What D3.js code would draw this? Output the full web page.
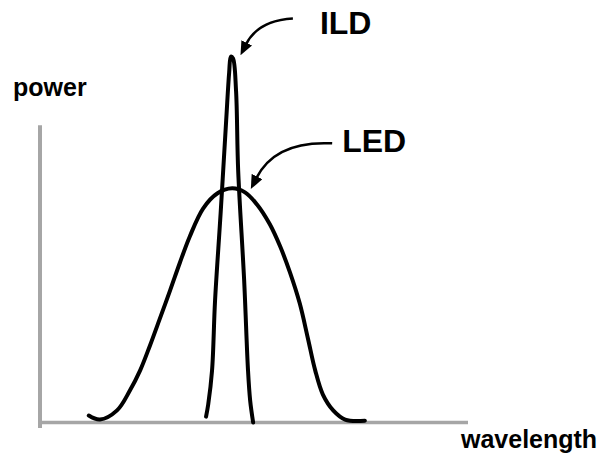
<!DOCTYPE html>
<html lang="en">
<head>
<meta charset="UTF-8">
<title>ILD vs LED spectrum</title>
<script src="https://d3js.org/d3.v7.min.js"></script>
<style>
  body { margin: 0; background: #fff; }
  text { font-family: "Liberation Sans", Arial, sans-serif; font-weight: bold; fill: #000; }
</style>
</head>
<body>
<script>
// wavelength (0-100) / relative power (0-100)
var ledWavelength = [11.4, 14.0, 18.0, 21.0, 23.4, 25.7, 28.0, 30.4, 32.7, 35.0, 38.1, 41.4, 44.9,
                     47.9, 50.7, 53.7, 56.1, 58.4, 60.7, 62.6, 64.3, 66.1, 68.5, 71.3, 75.9];
var ledPower      = [1.9, 0.8, 3.3, 8.7, 14.2, 21.0, 28.3, 36.0, 43.6, 50.7, 58.3, 62.4, 63.8,
                     62.7, 59.4, 54.0, 48.0, 40.9, 32.4, 22.9, 14.2, 7.6, 3.3, 0.8, 0.5];

var ildWavelength = [38.8, 39.3, 40.2, 40.9, 42.2, 43.5, 44.2, 44.6, 45.1, 45.8, 46.3, 47.7, 48.6, 49.1, 49.8];
var ildPower      = [1.6, 4.9, 14.2, 33.2, 57.0, 82.3, 95.4, 99.7, 99.2, 90.5, 68.7, 38.7, 14.2, 6.0, 0.0];

var labels = ["ILD", "LED"];
var axisTitles = ["power", "wavelength"];

var width = 601, height = 457;

var svg = d3.select("body").append("svg")
    .attr("width", width)
    .attr("height", height);

var x = d3.scaleLinear().domain([0, 100]).range([40, 468]);
var y = d3.scaleLinear().domain([0, 100]).range([422.5, 55.5]);

// axes: plain grey lines, no ticks
var axisColor = "#a6a6a6";
svg.append("line")
    .attr("x1", x(0)).attr("x2", x(0))
    .attr("y1", y(81)).attr("y2", y(0) + 5.5)
    .attr("stroke", axisColor).attr("stroke-width", 4);
svg.append("line")
    .attr("x1", x(0)).attr("x2", x(100))
    .attr("y1", y(0)).attr("y2", y(0))
    .attr("stroke", axisColor).attr("stroke-width", 3.5);

svg.append("text").attr("x", 13).attr("y", 96)
    .style("font-size", "25px").text(axisTitles[0]);
svg.append("text").attr("x", 461).attr("y", 448)
    .style("font-size", "25px").text(axisTitles[1]);

var line = d3.line()
    .x(function(d) { return x(d[0]); })
    .y(function(d) { return y(d[1]); })
    .curve(d3.curveCatmullRom.alpha(0.5));

var led = d3.zip(ledWavelength, ledPower);
var ild = d3.zip(ildWavelength, ildPower);

svg.selectAll(".spectrum")
    .data([led, ild])
    .enter().append("path")
    .attr("class", "spectrum")
    .attr("d", line)
    .attr("fill", "none")
    .attr("stroke", "#000")
    .attr("stroke-width", 4)
    .attr("stroke-linecap", "round")
    .attr("stroke-linejoin", "round");

// arrowhead
svg.append("defs").append("marker")
    .attr("id", "head")
    .attr("markerUnits", "userSpaceOnUse")
    .attr("viewBox", "0 -6 14 12")
    .attr("refX", 2).attr("refY", 0)
    .attr("markerWidth", 14).attr("markerHeight", 12)
    .attr("orient", "auto")
    .append("path").attr("d", "M0,-6L14,0L0,6Z").attr("fill", "#000");

// annotation arrows, placed relative to each peak
var peaks = [
  { label: labels[0], px: x(44.6), py: y(99.7), start: [62, -38], ctrl: [27, -36], end: [15, -12], text: [89, -23] },
  { label: labels[1], px: x(44.9), py: y(63.8), start: [100, -45], ctrl: [43, -48], end: [24, -10], text: [110, -36] }
];

peaks.forEach(function(p) {
  svg.append("path")
    .attr("d", "M" + (p.px + p.start[0]) + "," + (p.py + p.start[1]) +
               "Q" + (p.px + p.ctrl[0]) + "," + (p.py + p.ctrl[1]) +
               " " + (p.px + p.end[0]) + "," + (p.py + p.end[1]))
    .attr("fill", "none")
    .attr("stroke", "#000")
    .attr("stroke-width", 2.5)
    .attr("marker-end", "url(#head)");
  svg.append("text")
    .attr("x", p.px + p.text[0]).attr("y", p.py + p.text[1])
    .style("font-size", "32px")
    .text(p.label);
});
</script>
</body>
</html>
